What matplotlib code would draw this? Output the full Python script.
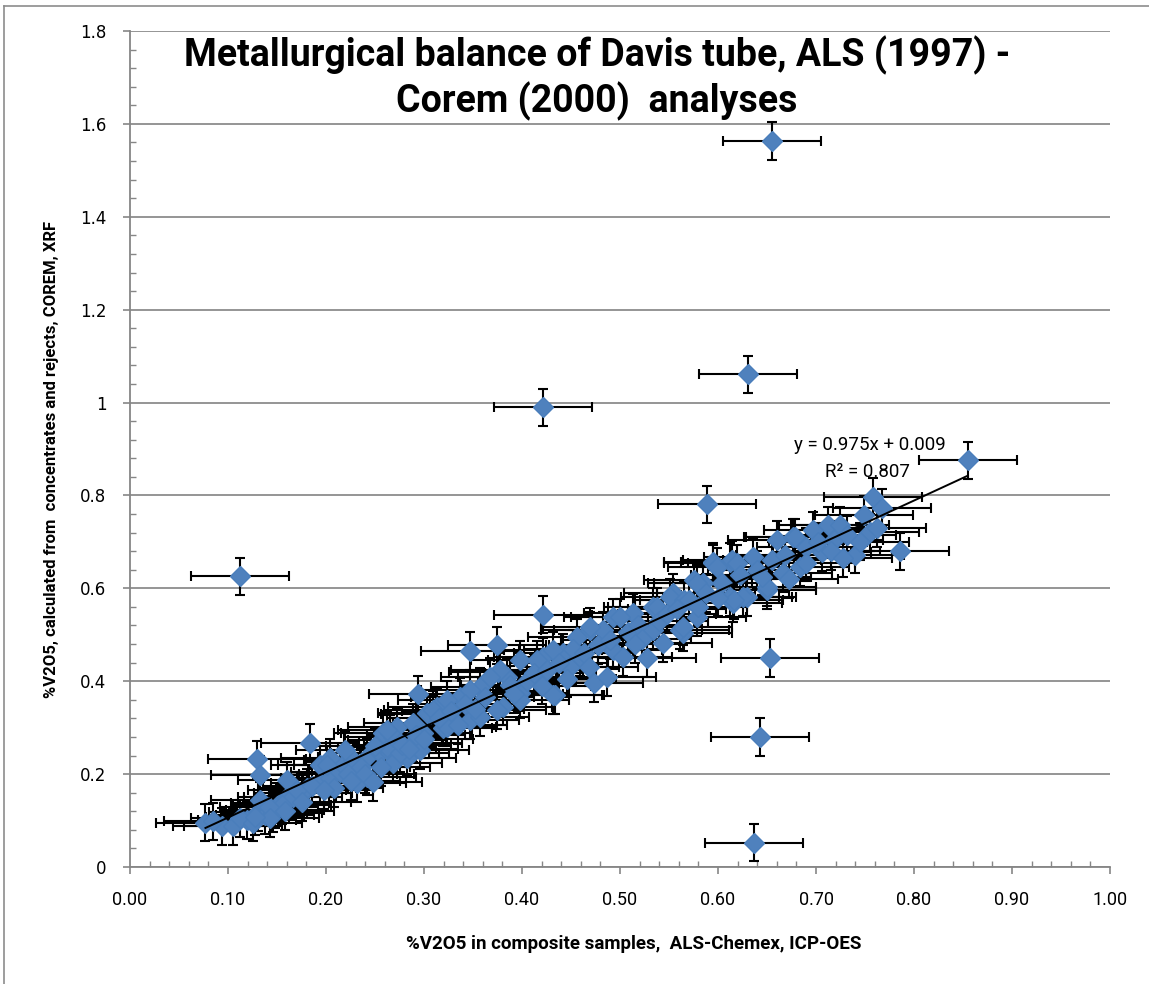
import numpy as np
import matplotlib
matplotlib.use("Agg")
from matplotlib import pyplot as plt
from matplotlib import font_manager
from matplotlib.lines import Line2D
from matplotlib.ticker import MultipleLocator, FormatStrFormatter

# outliers and points away from the main trend
out_x = [0.112, 0.421, 0.631, 0.655, 0.589, 0.855, 0.653, 0.643, 0.637, 0.421,
         0.347, 0.374, 0.294, 0.184, 0.130, 0.133, 0.160, 0.248, 0.786, 0.758,
         0.767, 0.749]
out_y = [0.626, 0.990, 1.061, 1.563, 0.781, 0.876, 0.450, 0.280, 0.052, 0.543,
         0.465, 0.477, 0.372, 0.267, 0.232, 0.199, 0.187, 0.183, 0.680, 0.797,
         0.773, 0.758]

# main cluster along the trend line
low_x = [0.077, 0.094, 0.105, 0.119, 0.131, 0.138, 0.148, 0.153, 0.133, 0.160,
         0.177, 0.194, 0.204, 0.214, 0.194, 0.217, 0.228, 0.242, 0.255, 0.265,
         0.204, 0.181, 0.242, 0.232, 0.262, 0.272, 0.289, 0.299, 0.283, 0.268,
         0.296, 0.201, 0.219, 0.258, 0.268, 0.276, 0.306, 0.319, 0.166, 0.146,
         0.155]
low_y = [0.095, 0.088, 0.088, 0.101, 0.118, 0.112, 0.123, 0.138, 0.144, 0.151,
         0.159, 0.181, 0.192, 0.205, 0.220, 0.220, 0.230, 0.237, 0.245, 0.245,
         0.235, 0.170, 0.194, 0.181, 0.258, 0.273, 0.267, 0.288, 0.235, 0.224,
         0.252, 0.220, 0.252, 0.288, 0.280, 0.245, 0.330, 0.300, 0.151, 0.116,
         0.133]

mid_x = [0.272, 0.265, 0.303, 0.313, 0.323, 0.337, 0.347, 0.357, 0.381, 0.398,
         0.375, 0.385, 0.398, 0.421, 0.442, 0.434, 0.449, 0.459, 0.456, 0.469,
         0.483, 0.493, 0.473, 0.487, 0.357, 0.374, 0.398, 0.432, 0.528, 0.544,
         0.564, 0.493, 0.503, 0.513, 0.534, 0.554, 0.500, 0.469, 0.432, 0.415,
         0.378, 0.367, 0.347, 0.323, 0.309, 0.289, 0.262, 0.561, 0.579, 0.534]
mid_y = [0.301, 0.288, 0.331, 0.345, 0.301, 0.366, 0.316, 0.388, 0.345, 0.375,
         0.420, 0.409, 0.446, 0.452, 0.461, 0.370, 0.431, 0.452, 0.495, 0.510,
         0.510, 0.538, 0.396, 0.409, 0.323, 0.338, 0.360, 0.370, 0.450, 0.482,
         0.504, 0.467, 0.452, 0.547, 0.560, 0.590, 0.538, 0.517, 0.467, 0.446,
         0.424, 0.409, 0.381, 0.360, 0.338, 0.310, 0.295, 0.510, 0.538, 0.510]

up_x = [0.575, 0.595, 0.612, 0.636, 0.660, 0.612, 0.630, 0.650, 0.595, 0.614,
        0.677, 0.585, 0.650, 0.684, 0.615, 0.626, 0.551, 0.538, 0.564, 0.565,
        0.579, 0.599, 0.616, 0.619, 0.666, 0.697, 0.679, 0.712, 0.724, 0.706,
        0.740, 0.755]
up_y = [0.618, 0.657, 0.657, 0.667, 0.704, 0.581, 0.581, 0.596, 0.654, 0.661,
        0.710, 0.611, 0.603, 0.646, 0.568, 0.581, 0.581, 0.560, 0.517, 0.575,
        0.611, 0.646, 0.575, 0.654, 0.633, 0.725, 0.710, 0.736, 0.736, 0.678,
        0.672, 0.721]

fill_x = [0.085, 0.112, 0.125, 0.142, 0.170, 0.186, 0.208, 0.222, 0.236, 0.250,
          0.278, 0.292, 0.315, 0.328, 0.342, 0.352, 0.362, 0.388, 0.405, 0.412,
          0.425, 0.438, 0.446, 0.452, 0.463, 0.478, 0.490, 0.508, 0.518, 0.522,
          0.540, 0.548, 0.558, 0.570, 0.588, 0.604, 0.622, 0.640, 0.655, 0.668,
          0.690, 0.702, 0.718, 0.732, 0.745, 0.762, 0.690, 0.715, 0.728, 0.672,
          0.645, 0.600, 0.580, 0.515, 0.468, 0.420, 0.392, 0.335, 0.300, 0.285,
          0.256, 0.240, 0.225, 0.198, 0.175, 0.158, 0.143, 0.128]
fill_y = [0.098, 0.105, 0.095, 0.130, 0.165, 0.175, 0.170, 0.200, 0.215, 0.260,
          0.262, 0.285, 0.320, 0.335, 0.352, 0.340, 0.365, 0.392, 0.400, 0.418,
          0.425, 0.440, 0.405, 0.470, 0.460, 0.478, 0.488, 0.505, 0.520, 0.490,
          0.530, 0.545, 0.555, 0.575, 0.590, 0.612, 0.628, 0.640, 0.660, 0.672,
          0.690, 0.700, 0.705, 0.715, 0.700, 0.730, 0.655, 0.680, 0.665, 0.620,
          0.625, 0.580, 0.560, 0.480, 0.430, 0.390, 0.372, 0.305, 0.275, 0.255,
          0.215, 0.200, 0.185, 0.165, 0.140, 0.120, 0.105, 0.108]

x_err = 0.05
y_err = 0.04
slope, intercept, r2 = 0.975, 0.009, 0.807

x = np.array(low_x + mid_x + up_x + fill_x + out_x)
y = np.array(low_y + mid_y + up_y + fill_y + out_y)

names = {f.name for f in font_manager.fontManager.ttflist}
narrow = "Liberation Sans Narrow" if "Liberation Sans Narrow" in names else "Roboto"

fig = plt.figure(figsize=(11.49, 9.84), dpi=100)
W, H = 1149, 984
ax = fig.add_axes([130 / W, 1 - 867 / H, 980 / W, (867 - 31) / H])

ax.errorbar(x, y, xerr=x_err, yerr=y_err, fmt="none", ecolor="black",
            elinewidth=1.5, capsize=3.3, capthick=1.5, zorder=2)
ax.plot(x, y, linestyle="none", marker="D", markersize=10,
        markerfacecolor="#4F81BD", markeredgecolor="#4A7EBB", zorder=3)

xs = np.array([x.min(), x.max()])
ax.plot(xs, slope * xs + intercept, color="black", lw=1.4, zorder=4)

ax.set_xlim(0, 1.0)
ax.set_ylim(0, 1.8)
ax.xaxis.set_major_locator(MultipleLocator(0.1))
ax.xaxis.set_minor_locator(MultipleLocator(0.02))
ax.yaxis.set_minor_locator(MultipleLocator(0.04))
ax.xaxis.set_major_formatter(FormatStrFormatter("%.2f"))
ax.set_yticks(np.arange(0, 1.81, 0.2))
ax.set_yticklabels(["0", "0.2", "0.4", "0.6", "0.8", "1", "1.2", "1.4", "1.6", "1.8"])

ax.grid(axis="y", which="major", color="#8C8C8C", lw=1.3, zorder=0)
ax.set_axisbelow(True)
for s in ["top", "right"]:
    ax.spines[s].set_visible(False)
for s in ["left", "bottom"]:
    ax.spines[s].set_color("#868686")
    ax.spines[s].set_linewidth(1.3)

ax.tick_params(which="major", direction="out", length=5, width=1.2, color="#868686")
ax.tick_params(which="minor", direction="in", length=4, width=1.0, color="#868686")
ax.tick_params(axis="x", which="major", pad=12)
ax.tick_params(axis="y", which="major", pad=12, labelsize=12)
for lab in ax.get_xticklabels():
    lab.set_fontfamily(narrow)
    lab.set_fontsize(13)
for lab in ax.get_yticklabels():
    lab.set_fontfamily("DejaVu Sans")

fig.text(946 / W, 1 - 445 / H, f"y = {slope}x + {intercept}",
         ha="right", va="center", fontsize=13.5, family=narrow)
fig.text(910 / W, 1 - 472 / H, f"R\u00b2 = {r2}",
         ha="right", va="center", fontsize=13.5, family=narrow)

fig.text(597 / W, 1 - 78 / H,
         "Metallurgical balance of Davis tube, ALS (1997) -\nCorem (2000)  analyses",
         ha="center", va="center", fontsize=27, fontweight="bold", family=narrow,
         linespacing=1.2)
fig.text(634 / W, 1 - 944 / H, "%V2O5 in composite samples,  ALS-Chemex, ICP-OES",
         ha="center", va="center", fontsize=13.5, fontweight="bold", family=narrow)
fig.text(52 / W, 1 - 460 / H,
         "%V2O5, calculated from  concentrates and rejects, COREM, XRF",
         ha="center", va="center", rotation=90, fontsize=12, fontweight="bold",
         family=narrow)

# chart frame (cropped at right and bottom)
fig.add_artist(Line2D([4 / W, 4 / W], [1 - 6 / H, 0], transform=fig.transFigure,
                      color="#8C8C8C", lw=1.2))
fig.add_artist(Line2D([4 / W, 1], [1 - 6 / H, 1 - 6 / H], transform=fig.transFigure,
                      color="#8C8C8C", lw=1.2))

fig.savefig("out.png", dpi=100)
